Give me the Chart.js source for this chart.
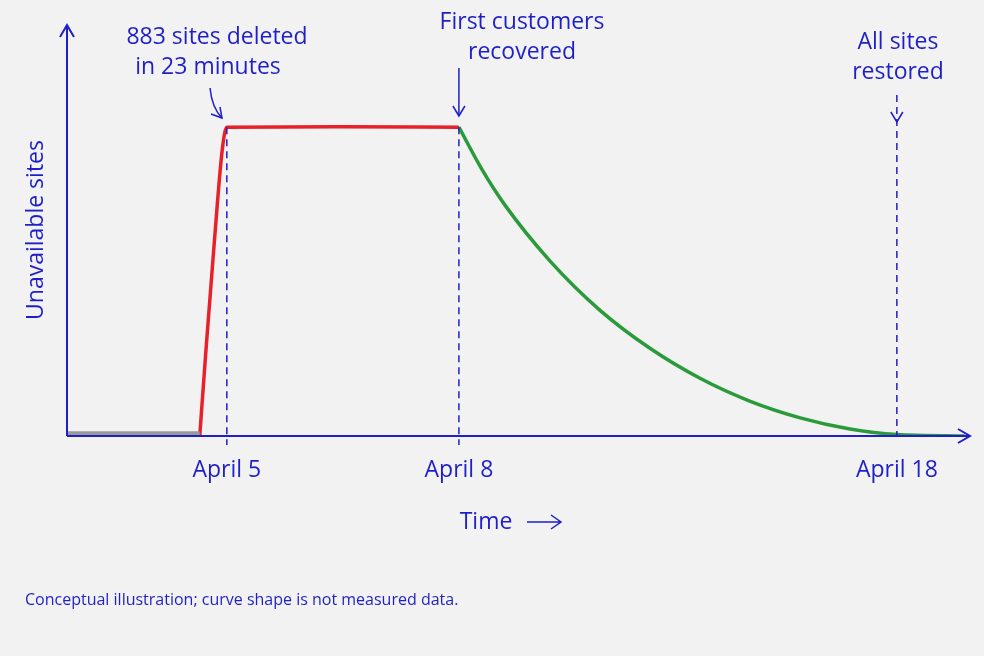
<!DOCTYPE html>
<html><head><meta charset="utf-8">
<script src="https://cdn.jsdelivr.net/npm/chart.js@4"></script>
<style>html,body{margin:0;background:#f2f2f2}#w{width:984px;height:656px}</style>
</head><body><div id="w"><canvas id="c"></canvas></div>
<script>
// time index (0..100 along drawn axis), values = unavailable sites
const grayX=[0,14.7], grayY=[8,8];
const redX=[14.7,15.4,16.3,17.2,17.7,30,43.4], redY=[0,250,550,820,883,884,883];
const greenX=[43.4,46.0,48.5,53.5,59.0,64.6,70.1,75.6,81.2,86.7,91.9,99.4];
const greenY=[883,760,660,500,360,250,165,100,52,20,4,0];
const tickPos=[17.7,43.4,91.9], tickLabels=["April 5","April 8","April 18"];
const BLUE='#1f1fc8', F='"Open Sans", Lato, sans-serif';
const pts=(xs,ys)=>xs.map((x,i)=>({x,y:ys[i]}));
const deco={id:'deco',afterDatasetsDraw(ch){
 const c=ch.ctx,xs=ch.scales.x,ys=ch.scales.y,a=ch.chartArea;
 const X=v=>xs.getPixelForValue(v),Y=v=>ys.getPixelForValue(v);
 c.save();c.strokeStyle=BLUE;c.fillStyle=BLUE;c.lineWidth=2;
 c.beginPath();c.moveTo(a.left,a.bottom);c.lineTo(a.left,a.top);c.moveTo(a.left,a.bottom);c.lineTo(a.right,a.bottom);c.stroke();
 c.beginPath();c.moveTo(a.left-7,a.top+12);c.lineTo(a.left,a.top);c.lineTo(a.left+7,a.top+12);
 c.moveTo(a.right-12,a.bottom-7);c.lineTo(a.right,a.bottom);c.lineTo(a.right-12,a.bottom+7);c.stroke();
 c.lineWidth=1.5;c.setLineDash([7,5]);
 tickPos.forEach((p,i)=>{c.beginPath();c.moveTo(X(p),i==2?95:Y(883));c.lineTo(X(p),a.bottom+(i==2?0:9));c.stroke();});
 c.setLineDash([]);
 c.beginPath();c.moveTo(X(tickPos[1]),68);c.lineTo(X(tickPos[1]),116);c.stroke();
 const ah=(x,y)=>{c.beginPath();c.moveTo(x-6,y-10);c.lineTo(x,y);c.lineTo(x+6,y-10);c.stroke();};
 ah(X(tickPos[1]),116);ah(X(tickPos[2]),122);
 c.beginPath();c.moveTo(210,88);c.quadraticCurveTo(212,108,222,118);c.stroke();
 c.beginPath();c.moveTo(211,114);c.lineTo(222,118);c.lineTo(220,107);c.stroke();
 c.textAlign='center';c.textBaseline='middle';c.font='23px '+F;
 c.fillText('883 sites deleted',217,37);c.fillText('in 23 minutes',208,67);
 c.fillText('First customers',522,22);c.fillText('recovered',522,52);
 c.fillText('All sites',898,42);c.fillText('restored',898,72);
 tickPos.forEach((p,i)=>c.fillText(tickLabels[i],X(p),470));
 c.fillText('Time',486,522);
 c.beginPath();c.moveTo(527,522);c.lineTo(561,522);c.moveTo(551,515);c.lineTo(561,522);c.lineTo(551,529);c.stroke();
 c.save();c.translate(36,230);c.rotate(-Math.PI/2);c.fillText('Unavailable sites',0,0);c.restore();
 c.textAlign='left';c.font='16px '+F;c.fillText('Conceptual illustration; curve shape is not measured data.',25,600);
 c.restore();}};
new Chart(document.getElementById('c'),{type:'line',
 data:{datasets:[
  {data:pts(grayX,grayY),borderColor:'#999',borderWidth:4,pointRadius:0},
  {data:pts(redX,redY),borderColor:'#e8202a',borderWidth:3.5,pointRadius:0,cubicInterpolationMode:'monotone'},
  {data:pts(greenX,greenY),borderColor:'#2a9a3a',borderWidth:3.5,pointRadius:0,cubicInterpolationMode:'monotone'}]},
 options:{responsive:true,maintainAspectRatio:false,animation:false,
  layout:{padding:{left:67,right:14,top:25,bottom:220}},
  plugins:{legend:{display:false},tooltip:{enabled:false}},
  scales:{x:{type:'linear',min:0,max:100,display:false},y:{min:0,max:1175,display:false}}},
 plugins:[deco]});
</script></body></html>
